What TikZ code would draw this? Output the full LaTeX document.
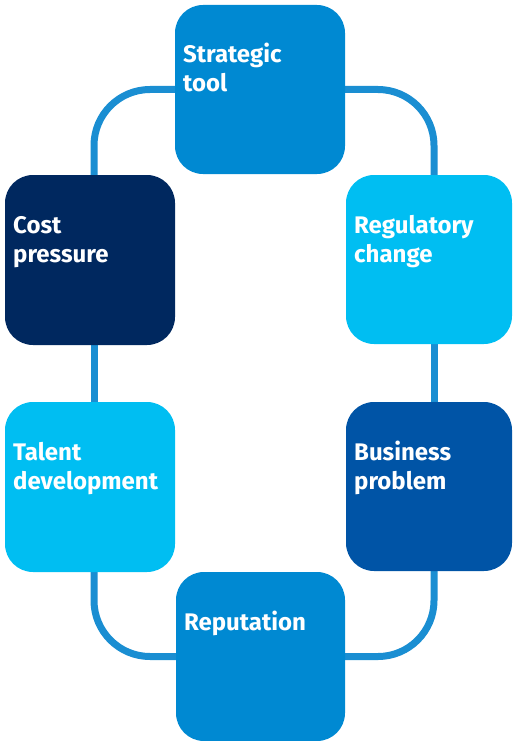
\documentclass[tikz,border=0pt]{standalone}
\usepackage{fontspec}
\setmainfont{Fira Sans}
\pgfdeclarelayer{background}
\pgfsetlayers{background,main}
\definecolor{midblue}{HTML}{0089D2}
\definecolor{cyanblue}{HTML}{00BEF2}
\definecolor{navy}{HTML}{00285F}
\definecolor{royal}{HTML}{0054A6}
\definecolor{linkblue}{HTML}{1A8ED2}
\tikzset{
  box/.style={rectangle, rounded corners=28pt, inner sep=0pt, outer sep=0pt},
  lbl/.style={anchor=base west, text=white, font=\fontsize{24}{29}\selectfont\bfseries, text width=160pt, align=left, inner sep=0pt},
  link/.style={draw=linkblue, line width=7pt, rounded corners=56pt}
}
\begin{document}
\begin{tikzpicture}[x=1pt,y=-1pt]
\useasboundingbox (0,0) rectangle (513,741);
% boxes
\node[box, fill=midblue, minimum width=170pt, minimum height=169pt] (st) at (260,89.5) {};
\node[box, fill=cyanblue, minimum width=166pt, minimum height=169pt] (rc) at (429,259.5) {};
\node[box, fill=navy, minimum width=170pt, minimum height=170pt] (cp) at (90,260) {};
\node[box, fill=cyanblue, minimum width=170pt, minimum height=170pt] (td) at (90,487) {};
\node[box, fill=royal, minimum width=166pt, minimum height=169pt] (bp) at (429,486.5) {};
\node[box, fill=midblue, minimum width=169pt, minimum height=169pt] (rep) at (260.5,656.5) {};
% connectors (behind boxes)
\begin{pgfonlayer}{background}
\path[link] (st.center) -| ([xshift=4pt]cp.center);
\path[link] ([xshift=4pt]cp.center) -- ([xshift=4pt]td.center);
\path[link] ([xshift=4pt]td.center) |- (rep.center);
\path[link] (rep.center) -| ([xshift=5pt]bp.center);
\path[link] ([xshift=5pt]bp.center) -- ([xshift=5pt]rc.center);
\path[link] ([xshift=5pt]rc.center) |- (st.center);
\end{pgfonlayer}
% labels
\node[lbl] (tst) at ([xshift=8pt,yshift=-58pt]st.north west) {Strategic\\tool};
\node[lbl] (trc) at ([xshift=8pt,yshift=-58pt]rc.north west) {Regulatory\\change};
\node[lbl] (tcp) at ([xshift=8pt,yshift=-58pt]cp.north west) {Cost\\pressure};
\node[lbl] (ttd) at ([xshift=8pt,yshift=-58pt]td.north west) {Talent\\development};
\node[lbl] (tbp) at ([xshift=8pt,yshift=-58pt]bp.north west) {Business\\problem};
\node[lbl] (trep) at ([xshift=8pt,yshift=-58pt]rep.north west) {Reputation};
\end{tikzpicture}
\end{document}
